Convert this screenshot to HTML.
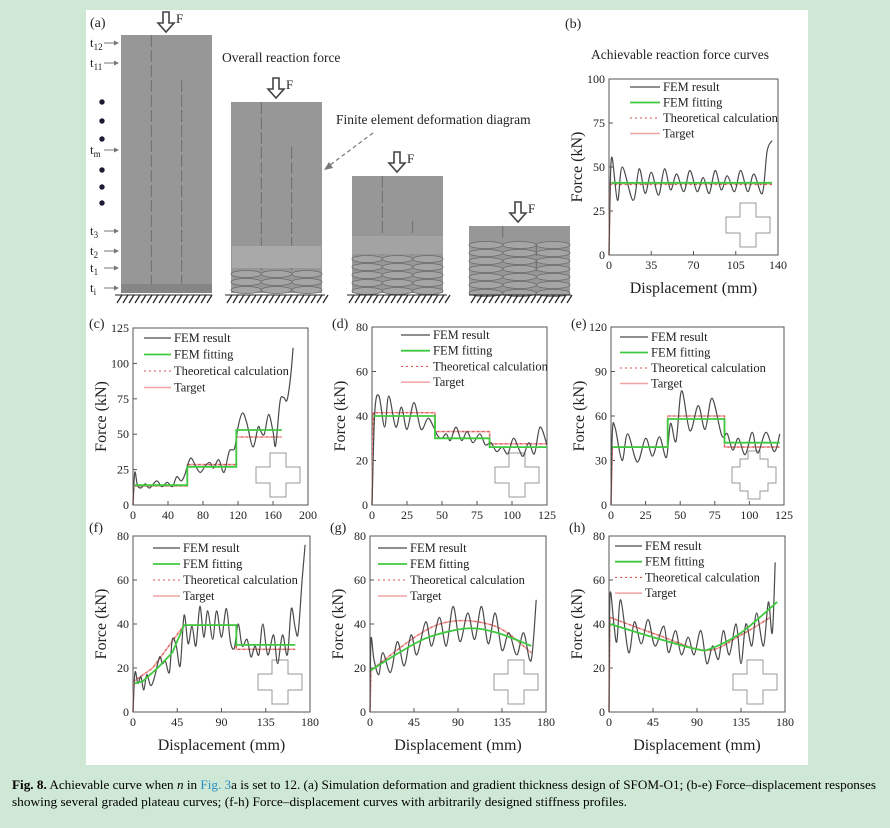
<!DOCTYPE html>
<html><head><meta charset="utf-8"><style>
body{margin:0;background:#cfe8d5;}
svg{display:block;font-family:"Liberation Serif",serif;}
</style></head><body>
<svg id="fig" width="890" height="828" viewBox="0 0 890 828" xmlns="http://www.w3.org/2000/svg">
<rect x="0" y="0" width="890" height="828" fill="#cfe8d5"/>
<rect x="86" y="10" width="722" height="755" fill="#fff"/>
<g id="panelA"></g>
<g id="charts"></g>
<g font-size="13">
<text x="12" y="789" textLength="864" lengthAdjust="spacingAndGlyphs"><tspan font-weight="bold">Fig. 8.</tspan>  Achievable curve when <tspan font-style="italic">n</tspan> in <tspan fill="#2a8fc0">Fig. 3</tspan>a is set to 12. (a) Simulation deformation and gradient thickness design of SFOM-O1; (b-e) Force–displacement responses</text>
<text x="12" y="806" textLength="615" lengthAdjust="spacingAndGlyphs">showing several graded plateau curves; (f-h) Force–displacement curves with arbitrarily designed stiffness profiles.</text>
</g>
</svg>
<script>
// ---------- DATA ----------
const bFem=[[0,0],[2,55],[7,31],[11,50],[20,31],[25,49],[30,35],[35,47],[41,34],[46,49],[51,37],[56,46],[62,36],[67,48],[73,36],[78,44],[83,35],[88,48],[93,37],[98,45],[104,36],[109,48],[115,36],[120,46],[127,35],[131,59],[135,65]];
const bFit=[[2,41],[135,41]];
const bTheory=[[0,0],[1,40],[135,40]];
const bTarget=[[0,0],[1,40.5],[135,40.5]];

const cFem=[[0,0],[2,23],[5,14],[9,12],[14,15],[19,12],[27,17],[33,13],[39,16],[45,13],[50,20],[55,17],[59,21],[64,31],[67,33],[72,27],[77,23],[83,28],[88,30],[92,26],[98,32],[104,23],[110,38],[116,40],[120,55],[125,65],[130,58],[137,41],[143,55],[146,52],[150,50],[155,64],[160,52],[163,42],[168,73],[172,76],[176,74],[180,90],[183,111]];
const cFit=[[2,14],[62,14],[62,27],[118,27],[118,53],[170,53]];
const cTheory=[[0,0],[1,13.5],[62,13.5],[62,28.5],[118,28.5],[118,48],[170,48]];
const cTarget=[[0,0],[1,13.5],[62,13.5],[62,28.5],[118,28.5],[118,48],[170,48]];

const dFem=[[0,0],[2,42],[5,49],[9,35],[12,49],[17,35],[21,44],[25,34],[30,46],[35,34],[40,39],[44,35],[47,31],[50,30],[53,32],[56,29],[60,35],[64,29],[68,33],[72,28],[77,32],[81,27],[85,28],[89,24],[93,26],[97,23],[101,30],[105,25],[108,22],[112,28],[116,23],[120,35],[125,27]];
const dFit=[[1,40],[45,40],[45,30],[84,30],[84,26],[125,26]];
const dTheory=[[0,0],[1,41.5],[45,41.5],[45,33],[84,33],[84,27.5],[125,27.5]];
const dTarget=[[0,0],[1,41.5],[45,41.5],[45,33],[84,33],[84,27.5],[125,27.5]];

const eFem=[[0,0],[1,50],[3,52],[8,30],[12,48],[19,29],[25,45],[30,33],[35,46],[40,32],[43,55],[47,43],[51,77],[57,50],[63,67],[68,51],[73,72],[80,47],[84,48],[88,37],[92,45],[97,34],[102,49],[106,35],[112,49],[118,36],[122,48]];
const eFit=[[1,39],[41,39],[41,58],[82,58],[82,42],[122,42]];
const eTheory=[[0,0],[1,39],[41,39],[41,60],[82,60],[82,39],[122,39]];
const eTarget=[[0,0],[1,39],[41,39],[41,60],[82,60],[82,39],[122,39]];

const fFem=[[0,0],[2,18],[5,13],[8,16],[11,10],[14,17],[18,12],[22,16],[27,25],[30,22],[33,23],[37,18],[40,33],[44,30],[48,21],[52,44],[56,31],[60,39],[64,30],[68,48],[72,34],[76,46],[81,33],[85,46],[90,34],[95,47],[99,32],[103,29],[107,40],[111,30],[116,33],[120,25],[124,30],[128,26],[132,40],[137,26],[143,35],[147,22],[152,35],[157,26],[161,47],[165,38],[168,36],[172,60],[175,76]];
const fFit=[[2,13],[10,14],[25,20],[40,27],[52,39.5],[105,39.5],[105,30.5],[165,30.5]];
const fTheory=[[0,0],[1,14],[20,20],[52,39.5],[105,39.5],[105,28.5],[165,28.5]];
const fTarget=[[0,0],[1,14],[20,20],[52,39.5],[105,39.5],[105,28.5],[165,28.5]];

const gFem=[[0,0],[1,33],[4,24],[9,17],[13,27],[21,18],[28,32],[35,21],[42,35],[48,26],[57,41],[63,30],[71,43],[78,30],[85,48],[92,32],[100,45],[107,33],[114,48],[121,31],[128,45],[135,28],[142,36],[150,26],[157,36],[163,24],[166,27],[170,51]];
const gFit=[[1,19],[30,27],[60,34],[100,38],[130,36],[165,30]];
const gTheory=[[0,0],[1,19],[68,39.5],[125,39.5],[165,27]];
const gTarget=[[0,0],[1,19],[68,39.5],[125,39.5],[165,27]];

const hFem=[[0,0],[1,53],[5,40],[8,32],[12,51],[20,27],[26,41],[33,31],[40,42],[47,30],[56,39],[61,27],[68,37],[74,26],[81,34],[87,26],[94,37],[100,22],[106,30],[112,24],[117,37],[123,26],[130,40],[135,22],[140,40],[146,30],[151,45],[158,30],[163,50],[167,36],[170,68]];
const hFit=[[1,40],[45,34],[90,28.5],[105,29],[135,36],[172,50]];
const hTheory=[[0,0],[1,43],[50,35],[100,28],[135,35],[165,43]];
const hTarget=[[0,0],[1,43],[50,35],[100,28],[135,35],[165,43]];

const bXTicks=[0,35,70,105,140], bYTicks=[0,25,50,75,100];
const cXTicks=[0,40,80,120,160,200], cYTicks=[0,25,50,75,100,125];
const dXTicks=[0,25,50,75,100,125], dYTicks=[0,20,40,60,80];
const eXTicks=[0,25,50,75,100,125], eYTicks=[0,30,60,90,120];
const fghXTicks=[0,45,90,135,180], fghYTicks=[0,20,40,60,80];
const legendLabels=["FEM result","FEM fitting","Theoretical calculation","Target"];

// ---------- DRAW ----------
const NS="http://www.w3.org/2000/svg";
function el(tag,attrs,parent){const e=document.createElementNS(NS,tag);for(const k in attrs)e.setAttribute(k,attrs[k]);if(parent)parent.appendChild(e);return e;}
function txt(s,attrs,parent){const t=el('text',attrs,parent);t.textContent=s;return t;}
function smooth(pts){
  let d='M'+pts[0][0]+','+pts[0][1];
  for(let i=0;i<pts.length-1;i++){
    const p0=pts[Math.max(0,i-1)],p1=pts[i],p2=pts[i+1],p3=pts[Math.min(pts.length-1,i+2)];
    const c1=[p1[0]+(p2[0]-p0[0])/6,p1[1]+(p2[1]-p0[1])/6];
    const c2=[p2[0]-(p3[0]-p1[0])/6,p2[1]-(p3[1]-p1[1])/6];
    d+=' C'+c1[0].toFixed(1)+','+c1[1].toFixed(1)+' '+c2[0].toFixed(1)+','+c2[1].toFixed(1)+' '+p2[0].toFixed(1)+','+p2[1].toFixed(1);
  }
  return d;
}
function smoothStart(pts){
  if(pts.length>2 && Math.abs(pts[1][0]-pts[0][0])<3){
    return 'M'+pts[0][0].toFixed(1)+','+pts[0][1].toFixed(1)+' L'+smooth(pts.slice(1)).slice(1);
  }
  return smooth(pts);
}
function poly(pts){return 'M'+pts.map(p=>p[0].toFixed(1)+','+p[1].toFixed(1)).join(' L');}
const root=document.getElementById('charts');

function chart(o){
  const g=el('g',{},root);
  
  
  const xs=v=>o.x0+(v-o.xd[0])/(o.xd[1]-o.xd[0])*(o.x1-o.x0);
  const ys=v=>o.y1-(v-o.yd[0])/(o.yd[1]-o.yd[0])*(o.y1-o.y0);
  const frame=el('rect',{x:o.x0,y:o.y0,width:o.x1-o.x0,height:o.y1-o.y0,fill:'none',stroke:'#555','stroke-width':1},g);
  
  
  o.xt.forEach(v=>{
    el('line',{x1:xs(v),x2:xs(v),y1:o.y1,y2:o.y1-4,stroke:'#555'},g);
    const t=txt(String(v),{x:xs(v),y:o.y1+14,'font-size':12,'text-anchor':'middle',fill:'#222'},g);
    
    
  });
  o.yt.forEach(v=>{
    el('line',{x1:o.x0,x2:o.x0+4,y1:ys(v),y2:ys(v),stroke:'#555'},g);
    const t=txt(String(v),{x:o.x0-4,y:ys(v)+4,'font-size':12,'text-anchor':'end',fill:'#222'},g);
    
    
  });
  const yl=txt('Force (kN)',{x:0,y:0,'font-size':16,'text-anchor':'middle',fill:'#222',transform:'translate('+(o.x0-27)+','+((o.y0+o.y1)/2)+') rotate(-90)'},g);
  
  
  if(o.xlabel){
    const xl=txt('Displacement (mm)',{x:(o.x0+o.x1)/2,y:o.y1+38,'font-size':16,'text-anchor':'middle',fill:'#222'},g);
    
    
  }
  const lt=txt(o.letter,{x:o.lx,y:o.ly,'font-size':14,fill:'#222'},g);
  
  
  const cx=o.x1-30,cy=o.y1-30,a=8,b=22;
  let cp;
  if(o.step){cp=[[-6,-24],[6,-24],[6,-16],[14,-16],[14,-8],[22,-8],[22,8],[14,8],[14,16],[6,16],[6,24],[-6,24],[-6,16],[-14,16],[-14,8],[-22,8],[-22,-8],[-14,-8],[-14,-16],[-6,-16]];}
  else{cp=[[-a,-b],[a,-b],[a,-a],[b,-a],[b,a],[a,a],[a,b],[-a,b],[-a,a],[-b,a],[-b,-a],[-a,-a]];}
  const ic=el('polygon',{points:cp.map(p=>(cx+p[0])+','+(cy+p[1])).join(' '),fill:'none',stroke:'#999','stroke-width':1},g);
  
  
  const map=arr=>arr.map(p=>[xs(p[0]),ys(p[1])]);
  const line=arr=>o.smoothFit?smoothStart(map(arr)):poly(map(arr));
  const tg=el('path',{d:line(o.target),fill:'none',stroke:'#f2a3a3','stroke-width':1.6},g);
  
  
  const th=el('path',{d:line(o.theory),fill:'none',stroke:'#d9534f','stroke-width':1.1,'stroke-dasharray':'2,3'},g);
  
  
  const fe=el('path',{d:smooth(map(o.fem)),fill:'none',stroke:'#4a4a4a','stroke-width':1.2},g);
  
  
  const ft=el('path',{d:line(o.fit),fill:'none',stroke:'#3ec93e','stroke-width':1.8},g);
  
  
  const styles=[{stroke:'#4a4a4a','stroke-width':1.3},{stroke:'#3ec93e','stroke-width':1.8},{stroke:'#d9534f','stroke-width':1.1,'stroke-dasharray':'2,3'},{stroke:'#f2a3a3','stroke-width':1.5}];
  legendLabels.forEach((lab,i)=>{
    const y=o.legY+i*o.legDy;
    const lg=el('g',{},g);
    
    
    el('line',Object.assign({x1:o.legX,x2:o.legX+o.legW,y1:y,y2:y},styles[i]),lg);
    txt(lab,{x:o.legX+o.legW+3,y:y+4,'font-size':12.5,fill:'#222'},lg);
  });
}

chart({id:'b',letter:'(b)',lx:565,ly:28,x0:609,x1:778,y0:79,y1:255,xd:[0,140],yd:[0,100],xt:bXTicks,yt:bYTicks,xlabel:true,fem:bFem,fit:bFit,theory:bTheory,target:bTarget,legX:630,legY:87,legDy:15.5,legW:30});
chart({id:'c',letter:'(c)',lx:89,ly:328,x0:133,x1:308,y0:328,y1:505,xd:[0,200],yd:[0,125],xt:cXTicks,yt:cYTicks,fem:cFem,fit:cFit,theory:cTheory,target:cTarget,legX:144,legY:338,legDy:16.5,legW:27});
chart({id:'d',letter:'(d)',lx:332,ly:328,x0:372,x1:547,y0:327,y1:505,xd:[0,125],yd:[0,80],xt:dXTicks,yt:dYTicks,fem:dFem,fit:dFit,theory:dTheory,target:dTarget,legX:401,legY:335,legDy:15.7,legW:29});
chart({id:'e',letter:'(e)',lx:571,ly:328,x0:611,x1:784,y0:327,y1:505,xd:[0,125],yd:[0,120],xt:eXTicks,yt:eYTicks,step:true,fem:eFem,fit:eFit,theory:eTheory,target:eTarget,legX:620,legY:337,legDy:15.5,legW:28});
chart({id:'f',letter:'(f)',lx:89,ly:532,x0:133,x1:310,y0:536,y1:712,xd:[0,180],yd:[0,80],xt:fghXTicks,yt:fghYTicks,xlabel:true,fem:fFem,fit:fFit,theory:fTheory,target:fTarget,legX:153,legY:548,legDy:16,legW:27});
chart({id:'g',letter:'(g)',lx:330,ly:532,x0:370,x1:546,y0:536,y1:712,xd:[0,180],yd:[0,80],xt:fghXTicks,yt:fghYTicks,xlabel:true,smoothFit:true,fem:gFem,fit:gFit,theory:gTheory,target:gTarget,legX:378,legY:548,legDy:16,legW:29});
chart({id:'h',letter:'(h)',lx:569,ly:532,x0:609,x1:785,y0:536,y1:712,xd:[0,180],yd:[0,80],xt:fghXTicks,yt:fghYTicks,xlabel:true,smoothFit:true,fem:hFem,fit:hFit,theory:hTheory,target:hTarget,legX:615,legY:546,legDy:15.7,legW:27});

// ---------- PANEL A ----------
const A=document.getElementById('panelA');
txt('(a)',{x:90,y:27,'font-size':14,fill:'#222'},A);
function hatch(x0,x1,y){
  const h=el('g',{},A);
  
  
  el('line',{x1:x0,x2:x1,y1:y,y2:y,stroke:'#222','stroke-width':1},h);
  for(let x=x0+2;x<x1;x+=6)el('line',{x1:x,y1:y+8,x2:x+5,y2:y,stroke:'#222','stroke-width':1.2},h);
}
function arrow(x,y){
  const a=el('path',{d:`M${x-3},${y} L${x+3},${y} L${x+3},${y+11} L${x+8},${y+11} L${x},${y+20} L${x-8},${y+11} L${x-3},${y+11} Z`,fill:'#fff',stroke:'#444','stroke-width':1.6},A);
  
  
  txt('F',{x:x+10,y:y+11,'font-size':13,fill:'#222'},A);
}
function block(x,y,w,h,name,crushTop){
  const b=el('g',{},A);
  
  
  el('rect',{x:x,y:y,width:w,height:h,fill:'#979797'},b);
  if(crushTop!==undefined){
    for(let yy=crushTop;yy<y+h-3;yy+=8){
      for(let k=0;k<3;k++){
        el('ellipse',{cx:x+w/6+k*w/3,cy:yy+4,rx:w/6,ry:3.5,fill:'#a5a5a5',stroke:'#6a6a6a','stroke-width':0.8},b);
      }
    }
  }
  el('line',{x1:x+w/3,x2:x+w/3,y1:y,y2:crushTop||y+h,stroke:'#6e6e6e','stroke-width':1,'stroke-dasharray':'12,3'},b);
  el('line',{x1:x+2*w/3,x2:x+2*w/3,y1:y+45,y2:crushTop||y+h,stroke:'#6e6e6e','stroke-width':1,'stroke-dasharray':'12,3'},b);
}
block(121,35,91,258,'undeformed-column');
el('rect',{x:121,y:284,width:91,height:9,fill:'#858585'},A);
hatch(115,212,295);
arrow(166,12);
block(231,102,91,191,'deformed-column-1',270);
el('rect',{x:232,y:246,width:89,height:22,fill:'#a9a9a9'},A);
hatch(225,325,295);
arrow(276,78);
block(352,176,91,117,'deformed-column-2',255);
el('rect',{x:352,y:236,width:91,height:18,fill:'#a3a3a3'},A);
hatch(347,447,295);
arrow(397,152);
block(469,226,101,67,'deformed-column-3',241);
hatch(469,571,295);
arrow(518,202);
txt('Overall reaction force',{x:222,y:62,'font-size':13.5,fill:'#222'},A);
txt('Finite element deformation diagram',{x:336,y:124,'font-size':13.5,fill:'#222'},A);
el('line',{x1:373,y1:133,x2:326,y2:168,stroke:'#777','stroke-width':1.2,'stroke-dasharray':'4,3'},A);
el('path',{d:'M324,170 L333,168 L329,162 Z',fill:'#777'},A);
const tl=[['t','12',43],['t','11',63],['t','m',150],['t','3',231],['t','2',251],['t','1',268],['t','i',288]];
tl.forEach(t=>{
  const g=el('g',{},A);
  
  
  const tt=txt('',{x:90,y:t[2]+4,'font-size':13,fill:'#222'},g);
  const s1=el('tspan',{},tt);s1.textContent=t[0];
  const s2=el('tspan',{'font-size':9,dy:3},tt);s2.textContent=t[1];
  el('line',{x1:104,x2:118,y1:t[2],y2:t[2],stroke:'#777'},g);
  el('path',{d:`M119,${t[2]} L114,${t[2]-2.5} L114,${t[2]+2.5} Z`,fill:'#777'},g);
});
[102,121,139,170,187,203].forEach(y=>{
  const d=el('circle',{cx:102,cy:y,r:2.7,fill:'#1a1a33'},A);
  
  
});
const ttl=txt('Achievable reaction force curves',{x:591,y:59,'font-size':13.5,fill:'#222'},document.getElementById('charts'));


</script>
</body></html>
